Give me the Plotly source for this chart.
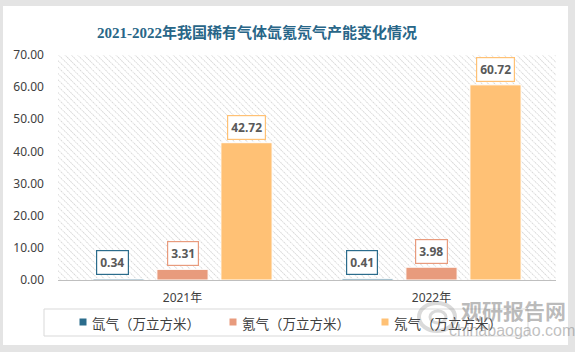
import urllib.parse
import plotly.graph_objects as go

categories = ["2021年", "2022年"]
series_names = ["氙气（万立方米）", "氪气（万立方米）", "氖气（万立方米）"]
xenon = [0.34, 0.41]
krypton = [3.31, 3.98]
neon = [42.72, 60.72]
y_ticks = [0, 10, 20, 30, 40, 50, 60, 70]

colors = ["#2B6C8C", "#E89B7D", "#FFC175"]
W, H = 575, 352
L, R, T, B = 58, 556, 55, 280  # plot area in px


def px(x):
    return (x - L) / (R - L)


def py(y):
    return (B - y) / (B - T)


fig = go.Figure()
for name, vals, col in zip(series_names, [xenon, krypton, neon], colors):
    fig.add_trace(go.Bar(
        x=categories, y=vals, name=name,
        marker=dict(color=col, line=dict(color="white", width=1)),
        hoverinfo="skip", showlegend=False,
    ))

# data labels in boxes
for i, (vals, col) in enumerate(zip([xenon, krypton, neon], colors)):
    for c, v in zip(categories, vals):
        fig.add_annotation(
            x=c, y=v, xref="x", yref="y", text=f"<b>{v:.2f}</b>",
            showarrow=False, xshift=(i - 1) * 64 - (6 if i == 0 else 0),
            yanchor="bottom", yshift=3 if i else 4,
            font=dict(family="Noto Sans, DejaVu Sans", size=12, color="#595959"),
            bgcolor="white", bordercolor=col, borderwidth=1.2, borderpad=3,
        )

# hatch background
svg = ("<svg xmlns='http://www.w3.org/2000/svg' width='498' height='225'>"
       "<defs><pattern id='p' width='4.5' height='4.5' patternUnits='userSpaceOnUse' "
       "patternTransform='rotate(-45)'>"
       "<line x1='0' y1='0' x2='0' y2='4.5' stroke='#c6c6c6' stroke-width='1.2' stroke-dasharray='1.2 0.6'/>"
       "</pattern></defs><rect width='100%' height='100%' fill='url(%23p)'/></svg>")
src = "data:image/svg+xml;charset=utf-8," + urllib.parse.quote(svg, safe="'/=:;,()% ")
fig.add_layout_image(dict(source=src, xref="paper", yref="paper", x=0, y=1,
                          sizex=1, sizey=1, xanchor="left", yanchor="top",
                          sizing="stretch", layer="below"))

# outer grey frame
frame = "#e4e4e4"
for (x0, y0, x1, y1) in [(0, 0, 3, H), (568, 0, W, H), (0, 0, W, 6), (0, 345, W, H)]:
    fig.add_shape(type="rect", xref="paper", yref="paper",
                  x0=px(x0), x1=px(x1), y0=py(y1), y1=py(y0),
                  fillcolor=frame, line=dict(width=0), layer="below")

# legend box
fig.add_shape(type="rect", xref="paper", yref="paper",
              x0=px(44), x1=px(528), y0=py(336), y1=py(309),
              line=dict(color="#d9d9d9", width=1), fillcolor="rgba(0,0,0,0)")

# manual legend entries
legend_x = [83, 233, 385]
for name, col, lx in zip(series_names, colors, legend_x):
    fig.add_shape(type="rect", xref="paper", yref="paper",
                  x0=px(lx - 3.5), x1=px(lx + 3.5), y0=py(325.5), y1=py(318.5),
                  fillcolor=col, line=dict(width=0))
    fig.add_annotation(xref="paper", yref="paper", x=px(lx + 7), y=py(322.5),
                       xanchor="left", yanchor="middle", text=name, showarrow=False,
                       font=dict(family="Noto Sans CJK SC", size=13.5, color="#404040"))

# watermark (logo swirl approximated + text)
fig.add_shape(type="circle", xref="paper", yref="paper",
              x0=px(419), x1=px(455), y0=py(331), y1=py(303),
              line=dict(color="rgba(150,150,150,0.35)", width=4), fillcolor="rgba(0,0,0,0)")
fig.add_shape(type="circle", xref="paper", yref="paper",
              x0=px(430), x1=px(446), y0=py(323), y1=py(311),
              line=dict(color="rgba(150,150,150,0.35)", width=3), fillcolor="rgba(0,0,0,0)")
fig.add_annotation(xref="paper", yref="paper", x=px(513), y=py(310),
                   xanchor="center", yanchor="middle",
                   text="<b>观研报告网</b>", showarrow=False,
                   font=dict(family="Noto Sans CJK SC", size=21, color="rgba(120,120,120,0.5)"))
fig.add_annotation(xref="paper", yref="paper", x=px(512), y=py(330),
                   xanchor="center", yanchor="middle",
                   text="chinabaogao.com", showarrow=False,
                   font=dict(family="Liberation Sans, DejaVu Sans", size=16, color="rgba(130,130,130,0.5)"))

fig.update_layout(
    width=W, height=H,
    margin=dict(l=L, r=W - R, t=T, b=H - B),
    paper_bgcolor="white", plot_bgcolor="rgba(0,0,0,0)",
    barmode="group", bargap=0.229, bargroupgap=0.2,
    title=dict(text="<b>2021-2022年我国稀有气体氙氪氖气产能变化情况</b>",
               x=257 / W, xanchor="center", y=1 - 33 / H, yanchor="middle",
               font=dict(family="Liberation Serif, Noto Sans CJK SC", size=15, color="#286688")),
    xaxis=dict(showline=True, linecolor="#bfbfbf", linewidth=1, ticks="",
               tickfont=dict(family="Noto Sans, Noto Sans CJK SC", size=12, color="#404040"),
               ticklabelstandoff=7, fixedrange=True),
    yaxis=dict(range=[0, 70], tickvals=y_ticks, tickformat=".2f", showgrid=False,
               zeroline=False, ticks="",
               tickfont=dict(family="Noto Sans", size=12, color="#404040"),
               ticklabelstandoff=13, fixedrange=True),
    showlegend=False,
)

fig.write_html("out.html")
